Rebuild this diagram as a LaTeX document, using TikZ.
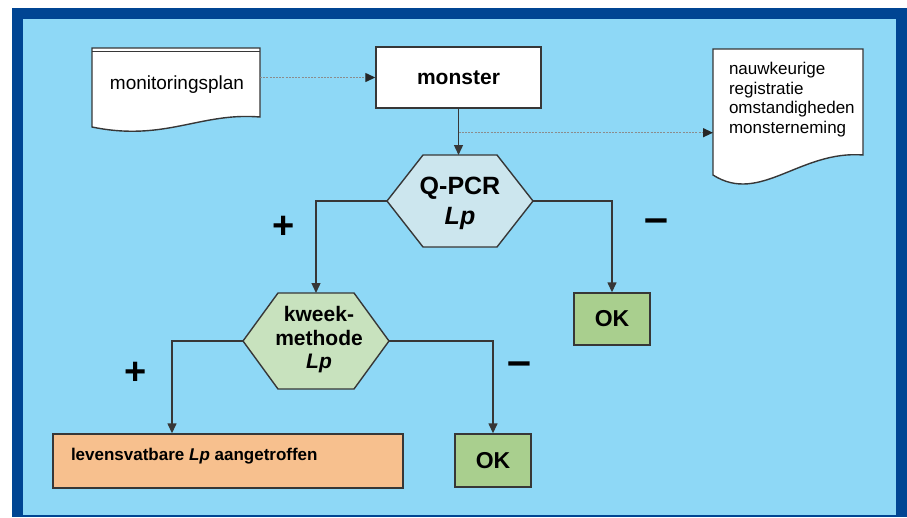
\documentclass[tikz,border=0pt]{standalone}
\usepackage{fontspec}
\setmainfont{Liberation Sans}
\usetikzlibrary{arrows.meta,calc}
\definecolor{frameblue}{RGB}{0,69,147}
\definecolor{bgblue}{RGB}{142,216,246}
\definecolor{hexblue}{RGB}{204,230,238}
\definecolor{hexgreen}{RGB}{200,226,190}
\definecolor{okgreen}{RGB}{169,207,142}
\definecolor{orangebox}{RGB}{247,192,142}
\definecolor{linegray}{RGB}{55,55,55}
\definecolor{dotgray}{RGB}{140,140,140}
\begin{document}
\begin{tikzpicture}[x=1pt,y=-1pt,
  outline/.style={draw=linegray,line width=1.4pt,line join=miter},
  boxnode/.style={outline,inner sep=0pt},
  anchornode/.style={inner sep=0pt,outer sep=0pt},
  flowarrow/.style={draw=linegray,line width=1.4pt,-{Triangle[length=10pt,width=9pt]}},
  dotarrow/.style={draw=dotgray,line width=1.3pt,dash pattern=on 2pt off 1.2pt,-{Triangle[length=10pt,width=9pt,color=black!85]}},
  signnode/.style={inner sep=0pt,font=\fontsize{38pt}{38pt}\selectfont\bfseries},
  minusnode/.style={inner sep=0pt,font=\fontsize{43pt}{43pt}\selectfont\bfseries}
]
\useasboundingbox (0,0) rectangle (907,517);
\fill[white] (0,0) rectangle (907,517);
\fill[frameblue] (12,8) rectangle (907,517);
\fill[bgblue] (23,19) rectangle (896,515);

% monitoringsplan document
\node[anchornode,minimum width=168pt,minimum height=83pt] (p) at (176,89.5) {};
\draw[outline,fill=white] (92,48) -- (260,48) -- (260,117)
  .. controls (200,112) and (165,142) .. (92,127) -- cycle;
\draw[outline] (92,51.5) -- (260,51.5);
\node[anchornode,font=\fontsize{19pt}{22pt}\selectfont] (pt) at (177,85) {monitoringsplan};

% monster
\node[boxnode,fill=white,minimum width=165pt,minimum height=61pt,
  font=\fontsize{21pt}{24pt}\selectfont\bfseries] (m) at (458.5,77.5) {monster};

% registration document
\node[anchornode,minimum width=150pt,minimum height=128pt] (r) at (788,113) {};
\draw[outline,fill=white] (713,49) -- (863,49) -- (863,155)
  .. controls (800,150) and (760,205) .. (713,175) -- cycle;
\node[anchornode,anchor=north west,align=left,
  font=\fontsize{17pt}{19.5pt}\selectfont] (rt) at (729,62.6)
  {nauwkeurige\\registratie\\omstandigheden\\monsterneming};

% Q-PCR hexagon
\node[anchornode,minimum width=146pt,minimum height=92pt] (q) at (460,201) {};
\draw[outline,fill=hexblue] (q.west) -- ([xshift=36pt]q.north west) -- ([xshift=-36pt]q.north east)
  -- (q.east) -- ([xshift=-36pt]q.south east) -- ([xshift=36pt]q.south west) -- cycle;
\node[anchornode,align=center,font=\fontsize{25pt}{30pt}\selectfont\bfseries] (qt) at (460,203)
  {Q-PCR\\\textit{Lp}};

% kweekmethode hexagon
\node[anchornode,minimum width=146pt,minimum height=96pt] (k) at (316,341) {};
\draw[outline,fill=hexgreen] (k.west) -- ([xshift=35pt]k.north west) -- ([xshift=-35pt]k.north east)
  -- (k.east) -- ([xshift=-35pt]k.south east) -- ([xshift=35pt]k.south west) -- cycle;
\node[anchornode,align=center,font=\fontsize{21pt}{23.5pt}\selectfont\bfseries] (kt) at (319,340)
  {kweek-\\methode\\\textit{Lp}};

% result boxes
\node[boxnode,fill=okgreen,minimum width=76pt,minimum height=52pt,
  font=\fontsize{23pt}{26pt}\selectfont\bfseries] (ok1) at (612,319) {OK};
\node[boxnode,fill=okgreen,minimum width=76pt,minimum height=53pt,
  font=\fontsize{23pt}{26pt}\selectfont\bfseries] (ok2) at (493,460.5) {OK};
\node[boxnode,fill=orangebox,minimum width=350pt,minimum height=54pt] (o) at (228,461) {};
\node[anchornode,anchor=base west,font=\fontsize{17pt}{20pt}\selectfont\bfseries] (ot) at (71,460)
  {levensvatbare \textit{Lp} aangetroffen};

% signs
\node[signnode] (plus1) at (283.5,227) {+};
\node[minusnode] (minus1) at (656,226) {–};
\node[signnode] (plus2) at (136,373) {+};
\node[minusnode] (minus2) at (519.5,369) {–};

% connectors
\draw[dotarrow] (p.east |- m.west) -- (m.west);
\draw[flowarrow] (m.south) -- (m.south |- q.north);
\coordinate (br) at ($(m.south)+(0,24)$);
\draw[dotarrow] (br) -- (br -| r.west);
\draw[flowarrow] (q.west) -| (k.north);
\draw[flowarrow] (q.east) -| (ok1.north);
\draw[flowarrow] (k.west) -| ([xshift=-56pt]o.north);
\draw[flowarrow] (k.east) -| (ok2.north);
\end{tikzpicture}
\end{document}
